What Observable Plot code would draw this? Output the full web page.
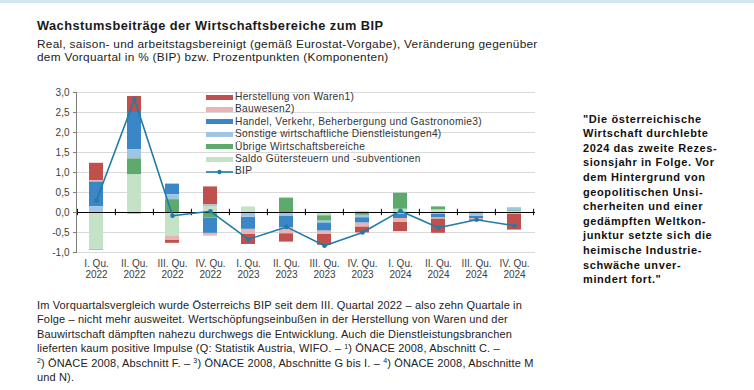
<!DOCTYPE html>
<html><head><meta charset="utf-8">
<script src="https://cdn.jsdelivr.net/npm/d3@7"></script>
<script src="https://cdn.jsdelivr.net/npm/@observablehq/plot@0.6"></script>
<style>
body{margin:0;background:#fff;font-family:"Liberation Sans",Arial,sans-serif;color:#1a1a1a}
#wrap{position:relative;width:754px;height:390px;overflow:hidden;background:#fff}
#band{position:absolute;left:0;top:0;width:754px;height:3px;background:#d5e6f3}
#title{position:absolute;left:37px;top:17.5px;font-weight:bold;font-size:12.8px;letter-spacing:0.45px;line-height:16px;white-space:nowrap}
#sub{position:absolute;left:37px;top:38px;font-size:11.8px;letter-spacing:0.3px;line-height:13px;white-space:nowrap;color:#222}
#chart{position:absolute;left:0;top:80px}
#legend{position:absolute;left:206px;top:91px;font-size:10.2px;letter-spacing:0.3px;color:#333}
#legend .row{height:12.4px;line-height:12.4px;white-space:nowrap;display:flex;align-items:center}
#legend .sw{display:inline-block;width:27px;height:5px;margin-right:2px}
#quote{position:absolute;left:583px;top:111.7px;font-weight:bold;font-size:11px;letter-spacing:0.6px;line-height:14.6px;white-space:nowrap;color:#111}
#foot{position:absolute;left:37px;top:298px;font-size:11px;letter-spacing:0.15px;line-height:14.4px;white-space:nowrap;color:#222}
.sup{font-size:7px;position:relative;top:-3.5px;line-height:0}
</style></head>
<body><div id="wrap">
<div id="band"></div>
<div id="title">Wachstumsbeiträge der Wirtschaftsbereiche zum BIP</div>
<div id="sub">Real, saison- und arbeitstagsbereinigt (gemäß Eurostat-Vorgabe), Veränderung gegenüber<br>dem Vorquartal in % (BIP) bzw. Prozentpunkten (Komponenten)</div>
<div id="chart"></div>
<div id="legend"></div>
<div id="quote">"Die österreichische<br>Wirtschaft durchlebte<br>2024 das zweite Rezes-<br>sionsjahr in Folge. Vor<br>dem Hintergrund von<br>geopolitischen Unsi-<br>cherheiten und einer<br>gedämpften Weltkon-<br>junktur setzte sich die<br>heimische Industrie-<br>schwäche unver-<br>mindert fort."</div>
<div id="foot">Im Vorquartalsvergleich wurde Österreichs BIP seit dem III. Quartal 2022 – also zehn Quartale in<br>Folge – nicht mehr ausweitet. Wertschöpfungseinbußen in der Herstellung von Waren und der<br>Bauwirtschaft dämpften nahezu durchwegs die Entwicklung. Auch die Dienstleistungsbranchen<br>lieferten kaum positive Impulse (Q: Statistik Austria, WIFO. – <span class="sup">1</span>) ÖNACE 2008, Abschnitt C. –<br><span class="sup">2</span>) ÖNACE 2008, Abschnitt F. – <span class="sup">3</span>) ÖNACE 2008, Abschnitte G bis I. – <span class="sup">4</span>) ÖNACE 2008, Abschnitte M<br>und N).</div>
</div>
<script>
const quarters = ["I. Qu.\n2022","II. Qu.\n2022","III. Qu.\n2022","IV. Qu.\n2022",
  "I. Qu.\n2023","II. Qu.\n2023","III. Qu.\n2023","IV. Qu.\n2023",
  "I. Qu.\n2024","II. Qu.\n2024","III. Qu.\n2024","IV. Qu.\n2024"];
const seriesNames = ["Herstellung von Waren1)","Bauwesen2)","Handel, Verkehr, Beherbergung und Gastronomie3)",
  "Sonstige wirtschaftliche Dienstleistungen4)","Übrige Wirtschaftsbereiche","Saldo Gütersteuern und -subventionen"];
const seriesColors = ["#c0504d","#e8b4b3","#3a86c6","#9fc5e6","#5cab6c","#c4e2c6"];
const herstellung = [0.44, 0.40, -0.07, 0.45, -0.26, -0.21, -0.28, -0.15, -0.23, -0.36, -0.04, -0.40];
const bauwesen    = [0.03, -0.05, -0.10, -0.07, -0.12, -0.15, -0.08, -0.10, -0.10, -0.03, -0.03, -0.02];
const handel      = [0.62, 0.93, 0.27, -0.38, -0.30, -0.28, -0.20, -0.13, -0.10, -0.08, -0.06, -0.02];
const sonstige    = [0.14, 0.23, 0.12, 0.04, -0.12, -0.10, -0.05, -0.06, -0.05, -0.05, -0.07, 0.08];
const uebrige     = [-0.02, 0.40, 0.32, -0.14, 0.00, 0.36, -0.13, -0.07, 0.40, 0.08, -0.02, 0.02];
const saldo       = [-0.92, 0.94, -0.60, 0.15, 0.14, 0.00, -0.08, 0.03, 0.08, 0.06, 0.02, 0.02];
const bip         = [0.30, 2.83, -0.08, 0.03, -0.67, -0.36, -0.83, -0.50, 0.04, -0.38, -0.18, -0.33];
const bipColor = "#1f7ca6";
const yTicks = [-1, -0.5, 0, 0.5, 1, 1.5, 2, 2.5, 3];

const seriesValues = [herstellung, bauwesen, handel, sonstige, uebrige, saldo];
const rows = [];
seriesNames.forEach((s, i) => quarters.forEach((q, j) => rows.push({q, s, v: seriesValues[i][j]})));
const bipRows = quarters.map((q, j) => ({q, v: bip[j]}));
const stackOrder = seriesNames.slice().reverse();

const chart = Plot.plot({
  width: 754, height: 215,
  marginLeft: 76, marginRight: 219, marginTop: 12, marginBottom: 43,
  style: {fontFamily: '"Liberation Sans",Arial,sans-serif', fontSize: "10px", color: "#404040"},
  x: {domain: quarters, paddingInner: 0.62, paddingOuter: 0.31, label: null},
  y: {domain: [-1, 3], label: null},
  color: {domain: seriesNames, range: seriesColors},
  marks: [
    Plot.gridY(yTicks, {stroke: "#d9d9d9", strokeOpacity: 1}),
    Plot.barY(rows, Plot.stackY({x: "q", y: "v", fill: "s", order: stackOrder})),
    Plot.ruleY([0], {stroke: "#000", strokeWidth: 1}),
    Plot.ruleX(quarters, {x: d => d, y1: -0.08, y2: 0.08, dx: -19.1, stroke: "#000"}),
    Plot.ruleX([quarters[quarters.length - 1]], {x: d => d, y1: -0.08, y2: 0.08, dx: 19.1, stroke: "#000"}),
    Plot.frame({anchor: "left", stroke: "#7f7f7f"}),
    Plot.axisY(yTicks, {tickSize: 3, tickPadding: 4, stroke: "#7f7f7f", tickFormat: d => d.toFixed(1).replace(".", ","), fontSize: 10}),
    Plot.axisX({tickSize: 0, tickPadding: 7, fontSize: 10, lineHeight: 1.1}),
    Plot.lineY(bipRows, {x: "q", y: "v", stroke: bipColor, strokeWidth: 1.6}),
    Plot.dot(bipRows, {x: "q", y: "v", r: 2.3, fill: bipColor, stroke: "none"})
  ]
});
document.getElementById("chart").appendChild(chart);

const leg = document.getElementById("legend");
seriesNames.forEach((s, i) => {
  const r = document.createElement("div"); r.className = "row";
  r.innerHTML = `<span class="sw" style="background:${seriesColors[i]}"></span>${s}`;
  leg.appendChild(r);
});
const r = document.createElement("div"); r.className = "row";
r.innerHTML = `<svg width="27" height="6" style="margin-right:2px"><line x1="0" x2="27" y1="3" y2="3" stroke="${bipColor}" stroke-width="1.6"/><circle cx="13.5" cy="3" r="2.2" fill="${bipColor}"/></svg>BIP`;
leg.appendChild(r);
</script>
</body></html>
